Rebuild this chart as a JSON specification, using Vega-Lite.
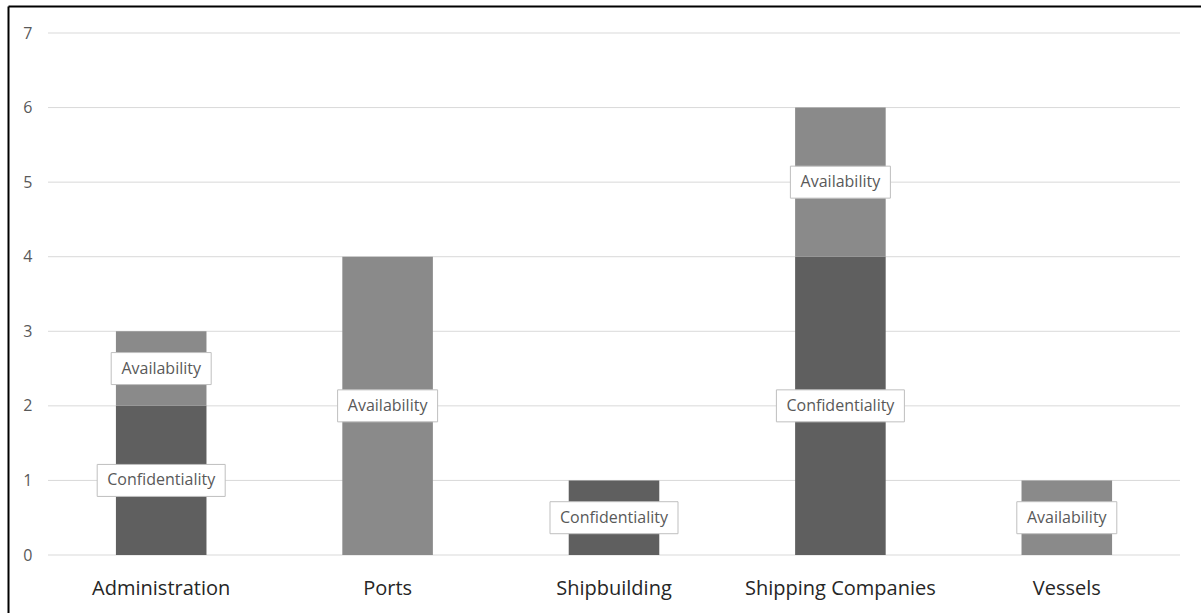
{
  "$schema": "https://vega.github.io/schema/vega-lite/v6.json",
  "width": 1220,
  "height": 620,
  "autosize": {"type": "none"},
  "padding": {"left": 8, "top": 6, "right": 0, "bottom": 0},
  "background": "#FFFFFF",
  "config": {
    "view": {"stroke": null},
    "font": "Open Sans"
  },
  "datasets": {
    "bars": [
      {"category": "Administration", "type": "Confidentiality", "count": 2},
      {"category": "Administration", "type": "Availability", "count": 1},
      {"category": "Ports", "type": "Availability", "count": 4},
      {"category": "Shipbuilding", "type": "Confidentiality", "count": 1},
      {"category": "Shipping Companies", "type": "Confidentiality", "count": 4},
      {"category": "Shipping Companies", "type": "Availability", "count": 2},
      {"category": "Vessels", "type": "Availability", "count": 1}
    ],
    "grid": [{"v": 0}, {"v": 1}, {"v": 2}, {"v": 3}, {"v": 4}, {"v": 5}, {"v": 6}, {"v": 7}]
  },
  "resolve": {"scale": {"x": "independent", "y": "independent"}, "axis": {"x": "independent", "y": "independent"}},
  "layer": [
    {
      "layer": [
        {
          "data": {"name": "grid"},
          "mark": {"type": "rule", "color": "#D9D9D9", "strokeWidth": 1},
          "encoding": {
            "y": {
              "field": "v", "type": "quantitative",
              "scale": {"domain": [0, 7], "range": [549, 27], "nice": false, "zero": true},
              "axis": {"orient": "left", "offset": -28, "domain": false, "ticks": false, "grid": false, "values": [0, 1, 2, 3, 4, 5, 6, 7], "format": "d", "labelOverlap": false, "labelFontSize": 16, "labelColor": "#595959", "labelPadding": 4, "title": null}
            },
            "x": {
              "datum": "Administration", "type": "nominal", "bandPosition": -0.75,
              "scale": {"type": "band", "domain": ["Administration", "Ports", "Shipbuilding", "Shipping Companies", "Vessels"], "range": [40, 1172], "paddingInner": 0.6, "paddingOuter": 0.3},
              "axis": {"orient": "bottom", "offset": -48, "domain": false, "ticks": false, "grid": false, "labelAngle": 0, "labelFontSize": 20, "labelColor": "#262626", "labelPadding": 0, "labelBaseline": "top", "labelLimit": 400, "labelOverlap": false, "title": null}
            },
            "x2": {"datum": "Vessels", "bandPosition": 1.75}
          }
        },
        {
          "data": {"name": "bars"},
          "transform": [
            {"stack": "count", "groupby": ["category"], "sort": [{"field": "type", "order": "descending"}], "as": ["v0", "v1"]}
          ],
          "mark": {"type": "bar"},
          "encoding": {
            "x": {"field": "category", "type": "nominal"},
            "y": {"field": "v0", "type": "quantitative"},
            "y2": {"field": "v1"},
            "color": {"field": "type", "type": "nominal", "scale": {"domain": ["Confidentiality", "Availability"], "range": ["#5F5F5F", "#8A8A8A"]}, "legend": null}
          }
        },
        {
          "data": {"name": "bars"},
          "transform": [
            {"stack": "count", "groupby": ["category"], "sort": [{"field": "type", "order": "descending"}], "as": ["v0", "v1"]},
            {"calculate": "(datum.v0 + datum.v1) / 2", "as": "mid"},
            {"filter": "datum.type === 'Confidentiality'"}
          ],
          "mark": {"type": "point", "shape": "M-1,-0.25H1V0.25H-1Z", "size": 16384, "fill": "#FFFFFF", "fillOpacity": 1, "stroke": "#BFBFBF", "strokeWidth": 1, "opacity": 1},
          "encoding": {
            "x": {"field": "category", "type": "nominal"},
            "y": {"field": "mid", "type": "quantitative"}
          }
        },
        {
          "data": {"name": "bars"},
          "transform": [
            {"stack": "count", "groupby": ["category"], "sort": [{"field": "type", "order": "descending"}], "as": ["v0", "v1"]},
            {"calculate": "(datum.v0 + datum.v1) / 2", "as": "mid"},
            {"filter": "datum.type === 'Availability'"}
          ],
          "mark": {"type": "point", "shape": "M-1,-0.32H1V0.32H-1Z", "size": 10000, "fill": "#FFFFFF", "fillOpacity": 1, "stroke": "#BFBFBF", "strokeWidth": 1, "opacity": 1},
          "encoding": {
            "x": {"field": "category", "type": "nominal"},
            "y": {"field": "mid", "type": "quantitative"}
          }
        },
        {
          "data": {"name": "bars"},
          "transform": [
            {"stack": "count", "groupby": ["category"], "sort": [{"field": "type", "order": "descending"}], "as": ["v0", "v1"]},
            {"calculate": "(datum.v0 + datum.v1) / 2", "as": "mid"}
          ],
          "mark": {"type": "text", "fontSize": 16, "color": "#595959", "baseline": "middle", "align": "center"},
          "encoding": {
            "x": {"field": "category", "type": "nominal"},
            "y": {"field": "mid", "type": "quantitative"},
            "text": {"field": "type"}
          }
        }
      ]
    },
    {
      "data": {"name": "grid"},
      "mark": {"type": "point", "opacity": 0},
      "encoding": {
        "x": {
          "field": "v", "type": "quantitative",
          "scale": {"domain": [0, 7], "range": [0, 1240], "nice": false, "zero": true},
          "axis": {"orient": "top", "offset": 0, "domain": true, "domainColor": "#000000", "domainWidth": 2, "labels": false, "ticks": false, "grid": false, "title": null}
        },
        "y": {
          "field": "v", "type": "quantitative",
          "scale": {"domain": [0, 7], "range": [0, 640], "nice": false, "zero": true},
          "axis": {"orient": "left", "offset": 0, "domain": true, "domainColor": "#000000", "domainWidth": 2, "labels": false, "ticks": false, "grid": false, "title": null}
        }
      }
    }
  ]
}
